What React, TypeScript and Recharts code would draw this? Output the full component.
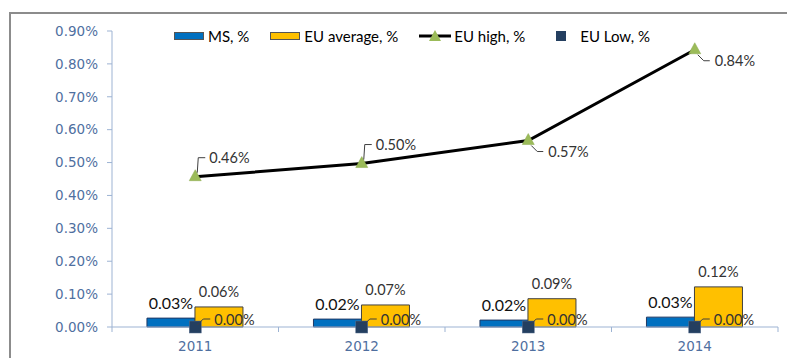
import React from "react";
import {
  Bar,
  ComposedChart,
  LabelList,
  Legend,
  Line,
  Scatter,
  XAxis,
  YAxis,
} from "recharts";

// values (shares, 0.01 = 1%)
const years = ["2011", "2012", "2013", "2014"];
const msShare = [0.00027, 0.00024, 0.00021, 0.0003];
const euAverage = [0.00061, 0.00067, 0.00086, 0.00122];
const euHigh = [0.00457, 0.00497, 0.00567, 0.00843];
const euLow = [0, 0, 0, 0];
const yTicks = [0, 0.001, 0.002, 0.003, 0.004, 0.005, 0.006, 0.007, 0.008, 0.009];

// which side of the point the EU high label sits on
const highLabelSide = ["up", "up", "down", "down"];

const data = years.map((year, i) => ({
  year,
  ms: msShare[i],
  avg: euAverage[i],
  high: euHigh[i],
  low: euLow[i],
}));

const AXIS_BLUE = "#4f6f9f";
const AXIS_LINE = "#9db3d3";
const LABEL_FONT = "Lato, 'Open Sans', sans-serif";
const AXIS_FONT = "'DejaVu Sans', Verdana, sans-serif";

const pct = (v: number) => `${(v * 100).toFixed(2)}%`;

// Excel-style category axis: tick marks sit between the categories
function YearTick(props: any) {
  const { x, y, payload, width, visibleTicksCount, index } = props;
  const band = width / visibleTicksCount;
  const left = payload.coordinate - band / 2;
  const right = payload.coordinate + band / 2;
  return (
    <g>
      <line x1={left} y1={y} x2={left} y2={y + 5} stroke={AXIS_LINE} />
      {index === visibleTicksCount - 1 && <line x1={right} y1={y} x2={right} y2={y + 5} stroke={AXIS_LINE} />}
      <text
        x={x}
        y={y + 19}
        textAnchor="middle"
        dominantBaseline="central"
        fill={AXIS_BLUE}
        fontSize={13.5}
        fontFamily={AXIS_FONT}
      >
        {payload.value}
      </text>
    </g>
  );
}

function Triangle({ cx, cy }: { cx?: number; cy?: number }) {
  if (cx === undefined || cy === undefined) return null;
  return (
    <path
      d={`M${cx},${cy - 7} L${cx + 6},${cy + 4} L${cx - 6},${cy + 4} Z`}
      fill="#9bbb59"
      stroke="#8aa84c"
      strokeWidth={0.5}
    />
  );
}

function LowSquare(props: any) {
  const { cx, cy } = props;
  if (cx === undefined || cy === undefined) return null;
  return (
    <rect x={cx - 6} y={cy - 6} width={12} height={12} fill="#243f60" stroke="#5a7090" strokeWidth={0.5} />
  );
}

function HighLabel(props: any) {
  const { x, y, value, index } = props;
  const up = highLabelSide[index] === "up";
  const d = up
    ? `M${x + 2},${y - 4} L${x + 3},${y - 19} L${x + 10},${y - 19}`
    : `M${x + 3},${y + 5} L${x + 9},${y + 11} L${x + 15},${y + 11}`;
  return (
    <g>
      <path d={d} fill="none" stroke="#404040" strokeWidth={1} />
      <text
        x={up ? x + 14 : x + 20}
        y={up ? y - 19 : y + 11}
        dominantBaseline="central"
        fontFamily={LABEL_FONT}
        fontSize={14.5}
        fill="#333"
      >
        {pct(value)}
      </text>
    </g>
  );
}

function LowLabel(props: any) {
  const { x, y, width, height, value } = props;
  const cx = x + (width ?? 0) / 2;
  const cy = y + (height ?? 0) / 2;
  return (
    <g>
      <path
        d={`M${cx + 2},${cy - 2} L${cx + 8},${cy - 8} L${cx + 15},${cy - 8}`}
        fill="none"
        stroke="#404040"
        strokeWidth={1}
      />
      <text
        x={cx + 19}
        y={cy - 8}
        dominantBaseline="central"
        fontFamily={LABEL_FONT}
        fontSize={14.5}
        fill="#333"
      >
        {pct(value)}
      </text>
    </g>
  );
}

function ChartLegend() {
  const text = { fontFamily: LABEL_FONT, fontSize: 15, color: "#000", whiteSpace: "nowrap" as const };
  const swatch = (color: string) => (
    <span style={{ display: "inline-block", width: 30, height: 8, background: color, border: "1px solid #555", boxSizing: "border-box", marginRight: 4 }} />
  );
  return (
    <div style={{ display: "flex", alignItems: "center", paddingLeft: 174, height: 18 }}>
      <span style={{ display: "flex", alignItems: "center", ...text }}>
        {swatch("#0070c0")}MS, %
      </span>
      <span style={{ display: "flex", alignItems: "center", marginLeft: 21, ...text }}>
        {swatch("#ffc000")}EU average, %
      </span>
      <span style={{ display: "flex", alignItems: "center", marginLeft: 21, ...text }}>
        <svg width={32} height={12} style={{ marginRight: 3 }}>
          <line x1={0} y1={6} x2={32} y2={6} stroke="#000" strokeWidth={3} />
          <path d="M16,0 L22,11 L10,11 Z" fill="#9bbb59" />
        </svg>
        EU high, %
      </span>
      <span style={{ display: "flex", alignItems: "center", marginLeft: 31, ...text }}>
        <span style={{ display: "inline-block", width: 10, height: 10, background: "#243f60", marginRight: 14 }} />
        EU Low, %
      </span>
    </div>
  );
}

export default function App() {
  return (
    <div style={{ position: "absolute", left: 0, top: 0, width: 787, height: 358, overflow: "hidden", background: "#fff", fontFamily: AXIS_FONT }}>
      <div
        style={{
          position: "absolute",
          left: 9,
          top: 12,
          width: 800,
          height: 400,
          borderLeft: "2px solid #8c8c8c",
          borderTop: "2px solid #8c8c8c",
        }}
      />
      <ComposedChart
        width={787}
        height={358}
        data={data}
        margin={{ top: 13, right: 9, bottom: 10, left: 0 }}
        barCategoryGap="21%"
        barGap={0}
        style={{ position: "absolute", left: 0, top: 0 }}
      >
        <Legend verticalAlign="top" content={<ChartLegend />} wrapperStyle={{ top: 27, left: 0, width: 787 }} />
        <XAxis
          dataKey="year"
          stroke={AXIS_LINE}
          tickLine={false}
          tickSize={0}
          tickMargin={0}
          height={21}
          tick={<YearTick />}
        />
        <YAxis
          width={112}
          domain={[0, 0.009]}
          ticks={yTicks}
          tickFormatter={pct}
          stroke={AXIS_LINE}
          tickSize={5}
          tickMargin={9}
          tick={{ fill: AXIS_BLUE, fontSize: 13.5, fontFamily: AXIS_FONT }}
        />
        <Bar dataKey="ms" fill="#0070c0" stroke="#1f3864" strokeWidth={1} isAnimationActive={false}>
          <LabelList dataKey="ms" position="top" offset={9} formatter={pct} fill="#111" fontSize={16} fontFamily={LABEL_FONT} />
        </Bar>
        <Bar dataKey="avg" fill="#ffc000" stroke="#404040" strokeWidth={1} isAnimationActive={false}>
          <LabelList dataKey="avg" position="top" offset={10} formatter={pct} fill="#333" fontSize={14.5} fontFamily={LABEL_FONT} />
        </Bar>
        <Line
          dataKey="high"
          stroke="#000"
          strokeWidth={3}
          dot={<Triangle />}
          activeDot={false}
          isAnimationActive={false}
        >
          <LabelList dataKey="high" content={<HighLabel />} />
        </Line>
        <Scatter dataKey="low" shape={<LowSquare />} isAnimationActive={false}>
          <LabelList dataKey="low" content={<LowLabel />} />
        </Scatter>
      </ComposedChart>
    </div>
  );
}
